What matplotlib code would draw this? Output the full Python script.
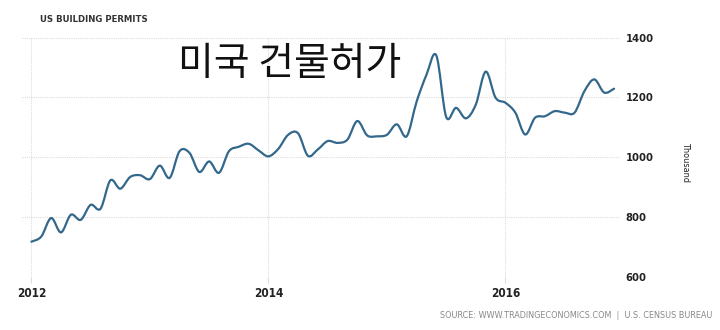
import numpy as np
import matplotlib
matplotlib.use("Agg")
import matplotlib.pyplot as plt
from matplotlib.path import Path
from matplotlib.patches import PathPatch

# monthly building permits, thousand units, Jan 2012 - Dec 2016
permits_2012 = [718, 735, 797, 749, 808, 791, 841, 828, 923, 895, 934, 940]
permits_2013 = [927, 972, 931, 1020, 1015, 951, 986, 948, 1020, 1035, 1045, 1023]
permits_2014 = [1003, 1028, 1075, 1080, 1005, 1026, 1054, 1048, 1059, 1121, 1073, 1070]
permits_2015 = [1075, 1110, 1070, 1185, 1275, 1340, 1135, 1165, 1130, 1176, 1286, 1199]
permits_2016 = [1182, 1149, 1076, 1132, 1137, 1154, 1149, 1149, 1221, 1260, 1216, 1229]

year_labels = ["2012", "2014", "2016"]
y_ticks = [600, 800, 1000, 1200, 1400]

values = np.array(permits_2012 + permits_2013 + permits_2014 + permits_2015 + permits_2016, dtype=float)
months = np.arange(len(values), dtype=float)

narrow = ["Liberation Sans Narrow", "DejaVu Sans"]

fig = plt.figure(figsize=(7.2, 3.3), dpi=100)
ax = fig.add_axes([22 / 720, 1 - 277 / 330, (620 - 22) / 720, (277 - 37.5) / 330])

# smooth curve through the monthly points (catmull-rom drawn as bezier segments)
pts = np.column_stack([months, values])
verts = [tuple(pts[0])]
codes = [Path.MOVETO]
for i in range(len(pts) - 1):
    p0 = pts[max(i - 1, 0)]
    p1 = pts[i]
    p2 = pts[i + 1]
    p3 = pts[min(i + 2, len(pts) - 1)]
    c1 = p1 + (p2 - p0) / 6.0
    c2 = p2 - (p3 - p1) / 6.0
    verts += [tuple(c1), tuple(c2), tuple(p2)]
    codes += [Path.CURVE4, Path.CURVE4, Path.CURVE4]
curve = PathPatch(Path(verts, codes), facecolor="none", edgecolor="#33688c",
                  linewidth=1.6, capstyle="round", joinstyle="round", zorder=3)
ax.add_patch(curve)

ax.set_xlim(-0.95, 59.6)
ax.set_ylim(600, 1400)

for s in ax.spines.values():
    s.set_visible(False)

ax.set_xticks([0, 24, 48])
ax.set_xticklabels(year_labels, fontfamily=narrow, fontstretch="condensed", fontsize=8.5,
                   color="#222222", fontweight="bold")
ax.set_yticks(y_ticks)
ax.set_yticklabels([str(v) for v in y_ticks], fontfamily=narrow, fontstretch="condensed",
                   fontsize=8, color="#222222", fontweight="bold")
ax.yaxis.tick_right()
ax.tick_params(axis="y", length=0, pad=4)
ax.tick_params(axis="x", length=4, color="#dddddd", pad=3)

ax.grid(True, color="#dcdcdc", linestyle=(0, (1, 1)), linewidth=0.8)
ax.set_axisbelow(True)

fig.text(685 / 720, 1 - 163 / 330, "Thousand", rotation=-90, ha="center", va="center",
         fontsize=6.5, fontfamily=narrow, fontstretch="condensed", color="#222222")

fig.text(40 / 720, 1 - 20 / 330, "US BUILDING PERMITS", ha="left", va="center",
         fontsize=6.8, fontfamily=narrow, fontstretch="condensed", color="#333333", fontweight="bold")

fig.text(290 / 720, 1 - 64 / 330, "미국 건물허가", ha="center", va="center",
         fontsize=28, fontweight="light", fontfamily=["Noto Sans CJK KR", "DejaVu Sans"], color="#111111")

fig.text(712 / 720, 1 - 316 / 330, "SOURCE: WWW.TRADINGECONOMICS.COM  |  U.S. CENSUS BUREAU",
         ha="right", va="center", fontsize=6.5, fontfamily=narrow, fontstretch="condensed",
         color="#888888")

fig.savefig("out.png", dpi=100)
